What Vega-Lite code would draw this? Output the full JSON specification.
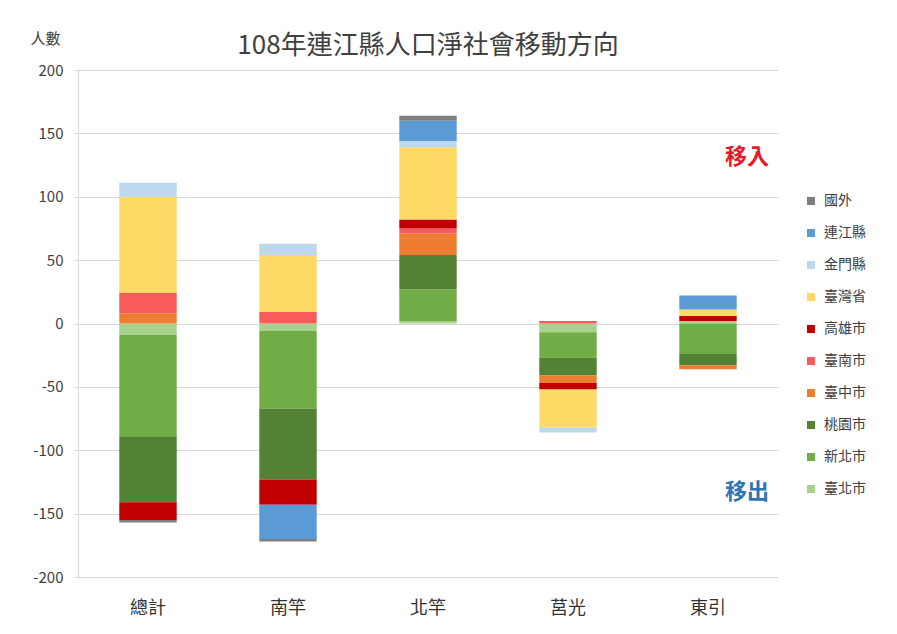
{
  "$schema": "https://vega.github.io/schema/vega-lite/v6.json",
  "width": 700,
  "height": 507,
  "autosize": {"type": "none"},
  "padding": {"left": 78, "top": 70, "right": 119, "bottom": 57},
  "background": "white",
  "title": {
    "text": "108年連江縣人口淨社會移動方向",
    "fontSize": 26,
    "fontWeight": "normal",
    "font": "Noto Sans CJK TC",
    "color": "#404040",
    "frame": "group",
    "anchor": "middle",
    "offset": -28
  },
  "config": {
    "font": "Noto Sans CJK TC",
    "view": {"stroke": null}
  },
  "layer": [
    {
      "data": {
        "values": [
          {"town": "總計", "region": "臺北市", "value": -9},
          {"town": "總計", "region": "新北市", "value": -80},
          {"town": "總計", "region": "桃園市", "value": -52},
          {"town": "總計", "region": "臺中市", "value": 8},
          {"town": "總計", "region": "臺南市", "value": 16},
          {"town": "總計", "region": "高雄市", "value": -14},
          {"town": "總計", "region": "臺灣省", "value": 76},
          {"town": "總計", "region": "金門縣", "value": 11},
          {"town": "總計", "region": "連江縣", "value": 0},
          {"town": "總計", "region": "國外", "value": -2},
          {"town": "南竿", "region": "臺北市", "value": -6},
          {"town": "南竿", "region": "新北市", "value": -61},
          {"town": "南竿", "region": "桃園市", "value": -56},
          {"town": "南竿", "region": "臺中市", "value": 0},
          {"town": "南竿", "region": "臺南市", "value": 9},
          {"town": "南竿", "region": "高雄市", "value": -20},
          {"town": "南竿", "region": "臺灣省", "value": 45},
          {"town": "南竿", "region": "金門縣", "value": 9},
          {"town": "南竿", "region": "連江縣", "value": -27},
          {"town": "南竿", "region": "國外", "value": -2},
          {"town": "北竿", "region": "臺北市", "value": 2},
          {"town": "北竿", "region": "新北市", "value": 25},
          {"town": "北竿", "region": "桃園市", "value": 27},
          {"town": "北竿", "region": "臺中市", "value": 17},
          {"town": "北竿", "region": "臺南市", "value": 4},
          {"town": "北竿", "region": "高雄市", "value": 7},
          {"town": "北竿", "region": "臺灣省", "value": 57},
          {"town": "北竿", "region": "金門縣", "value": 5},
          {"town": "北竿", "region": "連江縣", "value": 16},
          {"town": "北竿", "region": "國外", "value": 4},
          {"town": "莒光", "region": "臺北市", "value": -7},
          {"town": "莒光", "region": "新北市", "value": -20},
          {"town": "莒光", "region": "桃園市", "value": -14},
          {"town": "莒光", "region": "臺中市", "value": -6},
          {"town": "莒光", "region": "臺南市", "value": 2},
          {"town": "莒光", "region": "高雄市", "value": -5},
          {"town": "莒光", "region": "臺灣省", "value": -30},
          {"town": "莒光", "region": "金門縣", "value": -4},
          {"town": "莒光", "region": "連江縣", "value": 0},
          {"town": "莒光", "region": "國外", "value": 0},
          {"town": "東引", "region": "臺北市", "value": 2},
          {"town": "東引", "region": "新北市", "value": -24},
          {"town": "東引", "region": "桃園市", "value": -9},
          {"town": "東引", "region": "臺中市", "value": -3},
          {"town": "東引", "region": "臺南市", "value": 0},
          {"town": "東引", "region": "高雄市", "value": 4},
          {"town": "東引", "region": "臺灣省", "value": 5},
          {"town": "東引", "region": "金門縣", "value": 0},
          {"town": "東引", "region": "連江縣", "value": 11},
          {"town": "東引", "region": "國外", "value": 0}
        ]
      },
      "transform": [
        {"calculate": "indexof(['臺北市','新北市','桃園市','臺中市','臺南市','高雄市','臺灣省','金門縣','連江縣','國外'], datum.region)", "as": "k"}
      ],
      "mark": {"type": "bar"},
      "encoding": {
        "x": {
          "field": "town",
          "type": "nominal",
          "sort": ["總計", "南竿", "北竿", "莒光", "東引"],
          "scale": {"paddingInner": 0.59, "paddingOuter": 0.295},
          "axis": {
            "title": null,
            "labelAngle": 0,
            "labelFontSize": 18,
            "labelColor": "#333333",
            "labelPadding": 22,
            "ticks": false,
            "domain": false,
            "grid": false
          }
        },
        "y": {
          "field": "value",
          "type": "quantitative",
          "stack": "zero",
          "scale": {"domain": [-200, 200], "nice": false},
          "axis": {
            "title": "人數",
            "titleAngle": 0,
            "titleX": -33,
            "titleY": -32,
            "titleAlign": "center",
            "titleBaseline": "middle",
            "titleFontSize": 15,
            "titleFontWeight": "normal",
            "titleColor": "#404040",
            "values": [-200, -150, -100, -50, 0, 50, 100, 150, 200],
            "labelExpr": "replace(datum.label, '−', '-')",
            "labelFontSize": 15,
            "labelColor": "#404040",
            "labelPadding": 11,
            "tickSize": 4,
            "tickColor": "#d9d9d9",
            "domainColor": "#d9d9d9",
            "gridColor": "#d9d9d9"
          }
        },
        "color": {
          "field": "region",
          "type": "nominal",
          "scale": {
            "domain": ["國外", "連江縣", "金門縣", "臺灣省", "高雄市", "臺南市", "臺中市", "桃園市", "新北市", "臺北市"],
            "range": ["#7f7f7f", "#5b9bd5", "#bdd7ee", "#ffd966", "#c00000", "#f75b5b", "#ed7d31", "#548235", "#70ad47", "#a9d18e"]
          },
          "legend": {
            "title": null,
            "orient": "none",
            "legendX": 726,
            "legendY": 124,
            "symbolType": "square",
            "symbolSize": 64,
            "symbolStrokeWidth": 0,
            "labelFontSize": 14,
            "labelColor": "#404040",
            "labelOffset": 6,
            "rowPadding": 18
          }
        },
        "order": {"field": "k", "type": "quantitative", "sort": "ascending"}
      }
    },
    {
      "data": {
        "values": [
          {"town": "東引", "value": 131, "label": "移入"},
          {"town": "東引", "value": -133, "label": "移出"}
        ]
      },
      "mark": {"type": "text", "dx": 39, "fontSize": 22, "fontWeight": "bold", "baseline": "middle"},
      "encoding": {
        "x": {"field": "town", "type": "nominal", "sort": ["總計", "南竿", "北竿", "莒光", "東引"]},
        "y": {"field": "value", "type": "quantitative"},
        "text": {"field": "label"},
        "color": {"condition": {"test": "datum.value > 0", "value": "#e8182c"}, "value": "#2e75b6"}
      }
    }
  ]
}
